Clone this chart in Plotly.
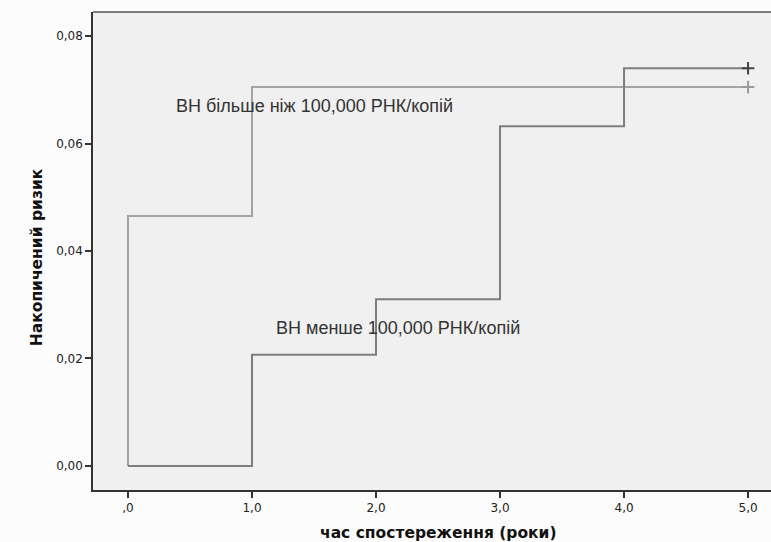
import plotly.graph_objects as go

# Data
time_high = [0, 0, 1, 5]
haz_high = [0, 0.0465, 0.0705, 0.0705]
time_low = [0, 1, 2, 3, 4, 5]
haz_low = [0, 0.0207, 0.031, 0.0632, 0.074, 0.074]
cens_time_high = [5]
cens_haz_high = [0.0705]
cens_time_low = [5]
cens_haz_low = [0.074]
label_high = "ВН більше ніж 100,000 РНК/копій"
label_low = "ВН менше 100,000 РНК/копій"
x_title = "час спостереження (роки)"
y_title = "Накопичений ризик"
x_ticks = [0, 1, 2, 3, 4, 5]
x_ticktext = [",0", "1,0", "2,0", "3,0", "4,0", "5,0"]
y_ticks = [0, 0.02, 0.04, 0.06, 0.08]
y_ticktext = ["0,00", "0,02", "0,04", "0,06", "0,08"]

c_high = "#a3a3a3"
c_low = "#7d7d7d"

fig = go.Figure()
fig.add_trace(go.Scatter(x=time_high, y=haz_high, mode="lines", line_shape="hv",
                         line=dict(color=c_high, width=2), showlegend=False, hoverinfo="skip"))
fig.add_trace(go.Scatter(x=time_low, y=haz_low, mode="lines", line_shape="hv",
                         line=dict(color=c_low, width=2), showlegend=False, hoverinfo="skip"))
fig.add_trace(go.Scatter(x=cens_time_high, y=cens_haz_high, mode="markers",
                         marker=dict(symbol="cross-thin", size=9, line=dict(color="#999999", width=2)),
                         showlegend=False, cliponaxis=False))
fig.add_trace(go.Scatter(x=cens_time_low, y=cens_haz_low, mode="markers",
                         marker=dict(symbol="cross-thin", size=9, line=dict(color="#444444", width=2)),
                         showlegend=False, cliponaxis=False))

fig.add_annotation(x=1.50, y=0.0670, text=label_high, showarrow=False,
                   font=dict(family="Liberation Sans, Arial", size=18, color="#333333"))
fig.add_annotation(x=2.18, y=0.0257, text=label_low, showarrow=False,
                   font=dict(family="Liberation Sans, Arial", size=18, color="#333333"))

fig.add_annotation(xref="paper", yref="paper", x=0.51, y=0, yshift=-43,
                   text="<b>" + x_title + "</b>", showarrow=False,
                   xanchor="center", yanchor="middle",
                   font=dict(family="DejaVu Sans", size=15.5, color="#111111"))
fig.add_annotation(xref="paper", yref="paper", x=0, xshift=-56, y=0.487, text="<b>" + y_title + "</b>",
                   showarrow=False, textangle=-90, xanchor="center", yanchor="middle",
                   font=dict(family="DejaVu Sans", size=15.5, color="#111111"))

fig.add_shape(type="line", xref="paper", yref="paper", x0=0, x1=1, y0=1, y1=1,
              line=dict(color="#555555", width=1.5))

fig.update_layout(
    width=771, height=542,
    margin=dict(l=93, r=0, t=12, b=52),
    paper_bgcolor="#fcfcfc",
    plot_bgcolor="#f0f0f0",
    font=dict(family="DejaVu Sans", size=12, color="#222222"),
    xaxis=dict(range=[-0.282, 5.185], tickvals=x_ticks, ticktext=x_ticktext, automargin=False,
               showgrid=False, zeroline=False, showline=True, linecolor="#333333", linewidth=1.5,
               ticks="outside", ticklen=6, tickwidth=2, tickcolor="#333333"),
    yaxis=dict(range=[-0.00447, 0.08447], tickvals=y_ticks, ticktext=y_ticktext, automargin=False,
               showgrid=False, zeroline=False, showline=True, linecolor="#333333", linewidth=1.5,
               ticks="outside", ticklen=6, tickwidth=2, tickcolor="#333333"),
)

fig.write_html("out.html", config={"displayModeBar": False},
               post_script="document.body.style.margin='0';document.body.style.padding='0';")
